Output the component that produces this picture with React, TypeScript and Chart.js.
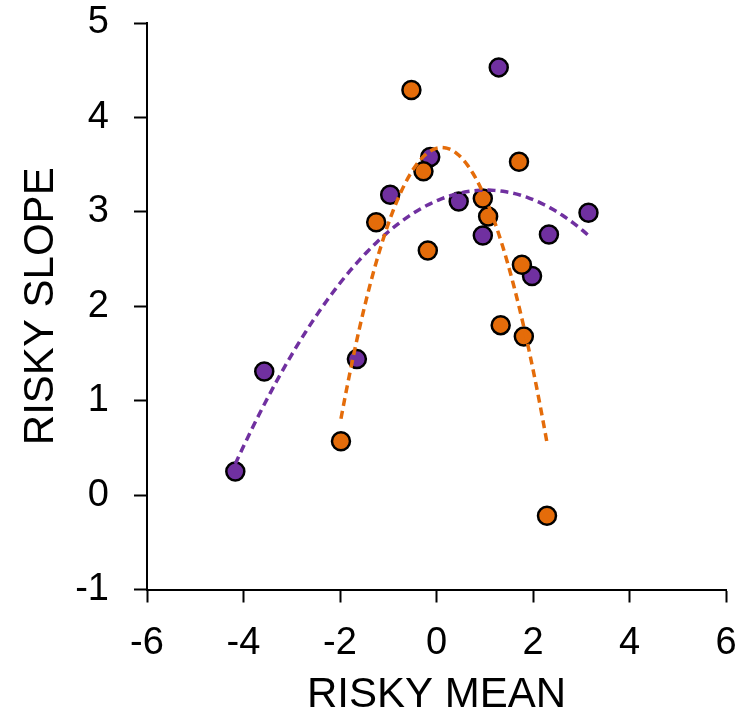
import React, { useEffect, useRef } from 'react';
import { Chart, registerables } from 'chart.js';

Chart.register(...registerables);

// Purple group
const purpleX = [-4.17, -3.57, -1.65, -0.96, -0.13, 0.46, 0.96, 1.29, 1.98, 2.33, 3.15];
const purpleY = [0.25, 1.31, 1.44, 3.18, 3.58, 3.11, 2.75, 4.53, 2.32, 2.76, 2.99];
// Orange group
const orangeX = [-1.98, -1.25, -0.52, -0.27, -0.18, 0.96, 1.07, 1.33, 1.71, 1.77, 1.81, 2.29];
const orangeY = [0.57, 2.89, 4.29, 3.43, 2.59, 3.14, 2.95, 1.8, 3.53, 2.44, 1.68, -0.22];

const PURPLE = '#7030A0';
const ORANGE = '#E46C0A';
const FONT = '"Liberation Sans", Arial, sans-serif';

// Quadratic least-squares trendline (as a spreadsheet polynomial trendline would compute)
function quadFit(xs: number[], ys: number[]): number[] {
  let s0 = 0, s1 = 0, s2 = 0, s3 = 0, s4 = 0, t0 = 0, t1 = 0, t2 = 0;
  for (let i = 0; i < xs.length; i++) {
    const x = xs[i], y = ys[i];
    s0 += 1; s1 += x; s2 += x * x; s3 += x * x * x; s4 += x * x * x * x;
    t0 += y; t1 += x * y; t2 += x * x * y;
  }
  const M = [
    [s0, s1, s2, t0],
    [s1, s2, s3, t1],
    [s2, s3, s4, t2],
  ];
  for (let c = 0; c < 3; c++) {
    let p = c;
    for (let r = c + 1; r < 3; r++) if (Math.abs(M[r][c]) > Math.abs(M[p][c])) p = r;
    [M[c], M[p]] = [M[p], M[c]];
    for (let r = 0; r < 3; r++) {
      if (r === c) continue;
      const f = M[r][c] / M[c][c];
      for (let k = c; k < 4; k++) M[r][k] -= f * M[c][k];
    }
  }
  return [M[0][3] / M[0][0], M[1][3] / M[1][1], M[2][3] / M[2][2]];
}

function trend(xs: number[], ys: number[]) {
  const [a, b, c] = quadFit(xs, ys);
  const lo = Math.min(...xs), hi = Math.max(...xs);
  const pts: { x: number; y: number }[] = [];
  const n = 120;
  for (let i = 0; i <= n; i++) {
    const x = lo + ((hi - lo) * i) / n;
    pts.push({ x, y: a + b * x + c * x * x });
  }
  return pts;
}

const toPts = (xs: number[], ys: number[]) => xs.map((x, i) => ({ x, y: ys[i] }));

export default function App() {
  const ref = useRef<HTMLCanvasElement | null>(null);

  useEffect(() => {
    if (!ref.current) return;
    const chart = new Chart(ref.current, {
      type: 'scatter',
      data: {
        datasets: [
          {
            data: trend(orangeX, orangeY),
            showLine: true,
            borderColor: ORANGE,
            borderWidth: 3.5,
            borderDash: [8, 5],
            pointRadius: 0,
            order: 0,
          } as any,
          {
            data: trend(purpleX, purpleY),
            showLine: true,
            borderColor: PURPLE,
            borderWidth: 3.5,
            borderDash: [8, 5],
            pointRadius: 0,
            order: 0,
          } as any,
          {
            data: toPts(orangeX, orangeY),
            backgroundColor: ORANGE,
            borderColor: '#000',
            borderWidth: 2.5,
            pointRadius: 9,
            order: 1,
          },
          {
            data: toPts(purpleX, purpleY),
            backgroundColor: PURPLE,
            borderColor: '#000',
            borderWidth: 2.5,
            pointRadius: 9,
            order: 2,
          },
        ],
      },
      options: {
        animation: false,
        responsive: false,
        maintainAspectRatio: false,
        layout: { padding: { top: 23, right: 20, left: 0, bottom: 0 } },
        plugins: { legend: { display: false }, tooltip: { enabled: false } },
        scales: {
          x: {
            type: 'linear',
            min: -6,
            max: 6,
            ticks: { stepSize: 2, color: '#000', font: { family: FONT, size: 38 }, padding: 18, maxRotation: 0 },
            grid: { drawOnChartArea: false, tickLength: 13, tickWidth: 2, tickColor: '#000' },
            border: { color: '#000', width: 2 },
            title: {
              display: true,
              text: 'RISKY MEAN',
              color: '#000',
              font: { family: FONT, size: 42, lineHeight: 1 },
              padding: { top: 0, bottom: 0 },
            },
            afterFit: (s: any) => {
              s.height = 126.5;
              s.paddingLeft = 0;
              s.paddingRight = 0;
            },
          },
          y: {
            type: 'linear',
            min: -1,
            max: 5,
            ticks: { stepSize: 1, color: '#000', font: { family: FONT, size: 38 }, padding: 25 },
            grid: { drawOnChartArea: false, tickLength: 13, tickWidth: 2, tickColor: '#000' },
            border: { color: '#000', width: 2 },
            title: {
              display: true,
              text: 'RISKY SLOPE',
              color: '#000',
              font: { family: FONT, size: 42, lineHeight: 1 },
              padding: { top: 20, bottom: 0 },
            },
            afterFit: (s: any) => {
              s.width = 147;
              s.paddingTop = 0;
              s.paddingBottom = 0;
            },
          },
        },
      },
    });
    return () => chart.destroy();
  }, []);

  return (
    <div style={{ position: 'absolute', left: 0, top: 0, width: 746, height: 716 }}>
      <canvas ref={ref} width={746} height={716} style={{ width: 746, height: 716, display: 'block' }} />
    </div>
  );
}
